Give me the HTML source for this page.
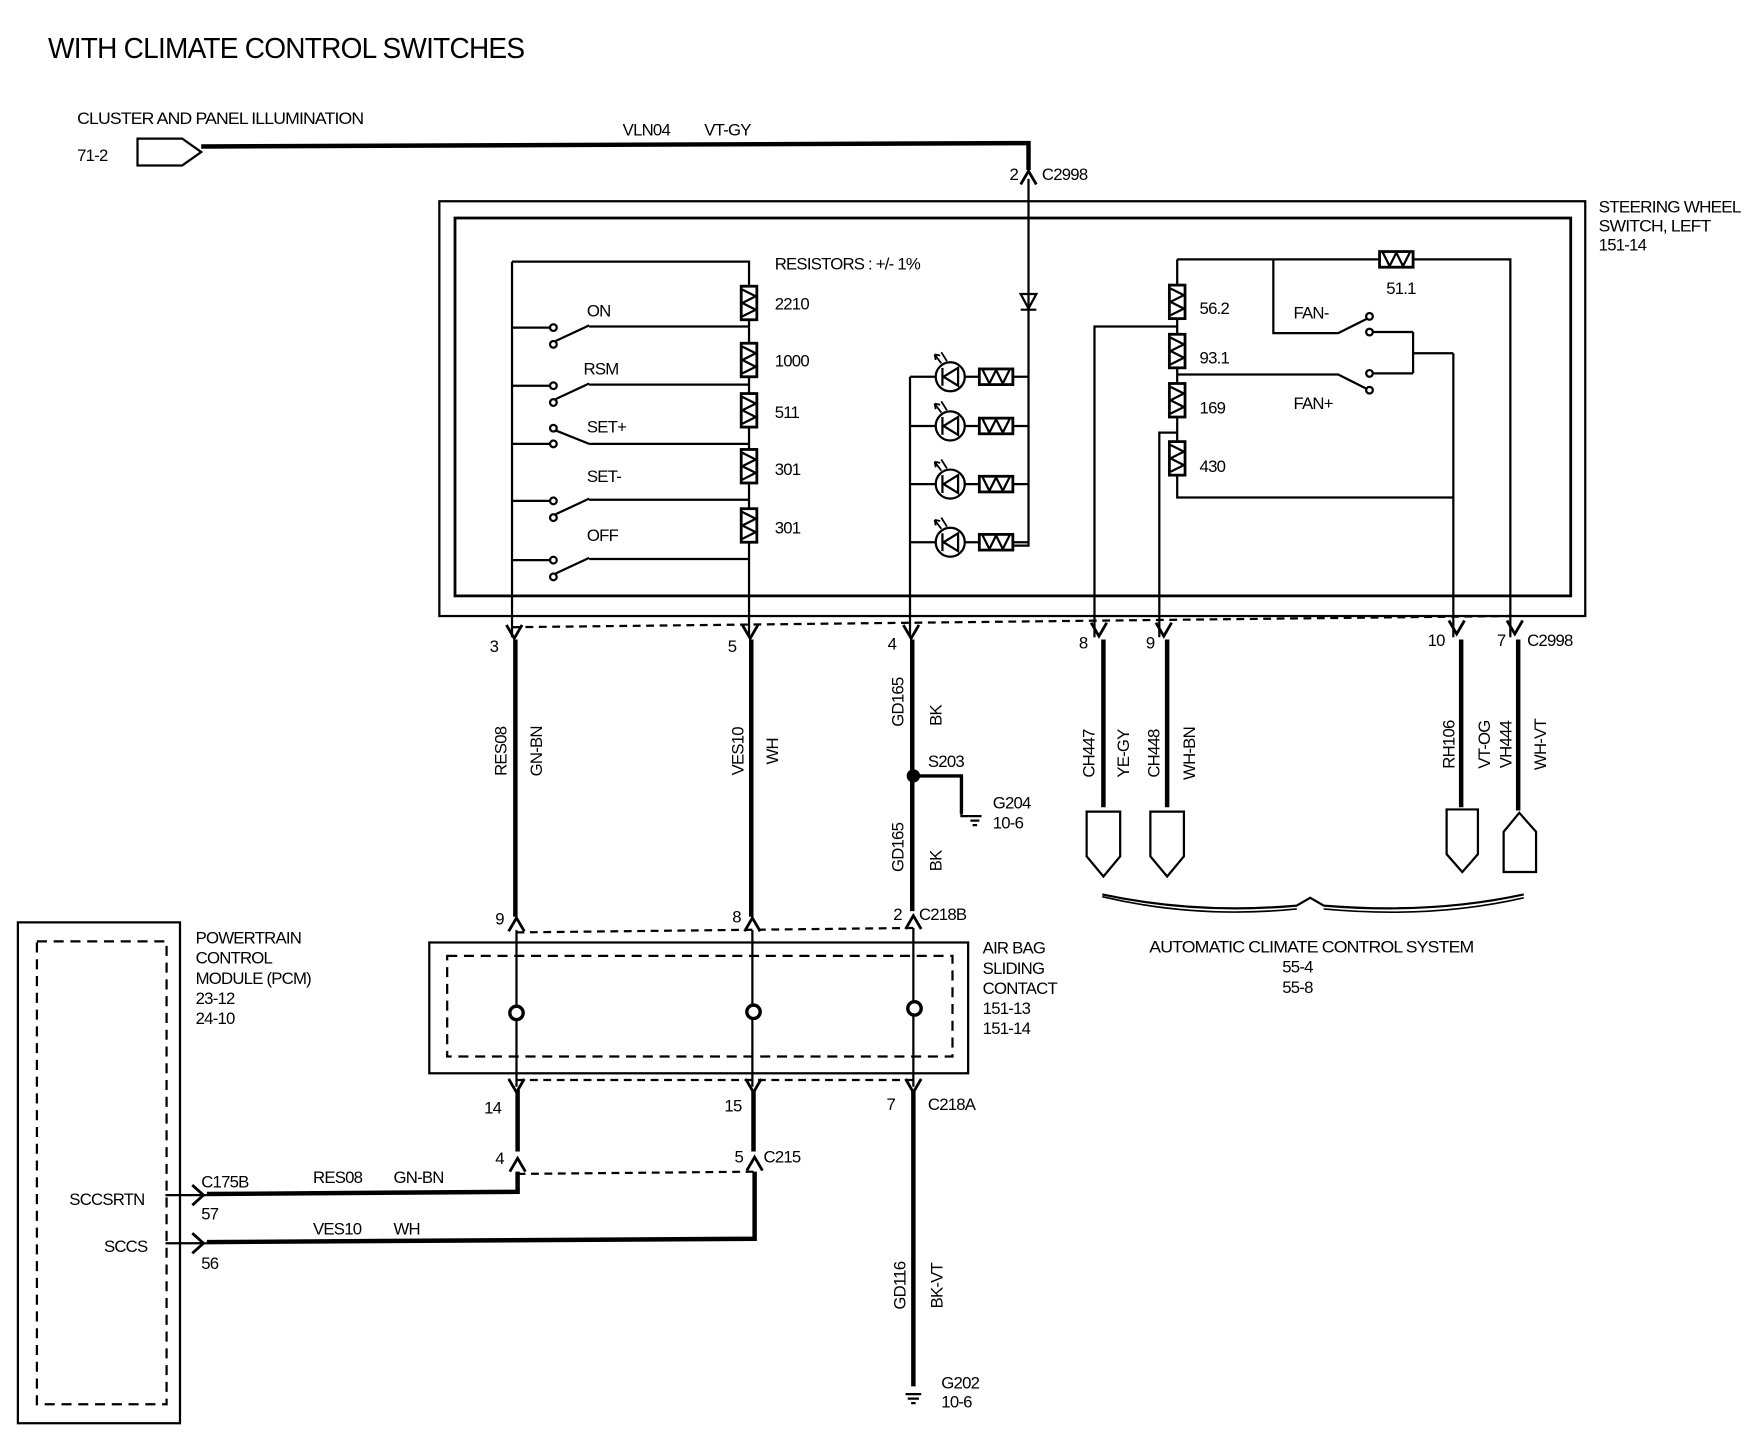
<!DOCTYPE html>
<html><head><meta charset="utf-8"><style>
html,body{margin:0;padding:0;background:#fff}
svg{display:block}
text{font-family:"Liberation Sans Narrow","Liberation Sans",sans-serif;font-size:15px;fill:#000;letter-spacing:-0.7px}
</style></head><body>
<svg width="1744" height="1440" viewBox="0 0 1560 1288" preserveAspectRatio="none" xmlns="http://www.w3.org/2000/svg">
<defs>
<g id="rv"><rect x="-7" y="0" width="14" height="30" fill="#fff" stroke="#000" stroke-width="2.5"/><path d="M-6 3 L6 9 L-6 15 L6 21 L-6 27" fill="none" stroke="#000" stroke-width="2"/></g>
<g id="rh"><rect x="0" y="-7" width="30" height="14" fill="#fff" stroke="#000" stroke-width="2.5"/><path d="M3 -6 L9 6 L15 -6 L21 6 L27 -6" fill="none" stroke="#000" stroke-width="2"/></g>
<g id="led"><circle cx="0" cy="0" r="13" fill="#fff" stroke="#000" stroke-width="2"/><path d="M7 -8 L7 8 L-6 0 Z M-7 -8 L-7 8" fill="none" stroke="#000" stroke-width="2"/><path d="M-8 -12 L-14 -20 M-14 -20 l1 5 M-14 -20 l5 1 M-3 -14 L-8 -22" stroke="#000" stroke-width="1.6" fill="none"/></g>
<path id="dn" d="M-7 -7 L0 5 L7 -7" fill="none" stroke="#000" stroke-width="2.5"/>
<path id="up" d="M-7 7 L0 -5 L7 7" fill="none" stroke="#000" stroke-width="2.5"/>
</defs>
<text x="43" y="52" style="font-size:26px" textLength="426" lengthAdjust="spacingAndGlyphs">WITH CLIMATE CONTROL SWITCHES</text>
<text x="69" y="111" textLength="256" lengthAdjust="spacingAndGlyphs">CLUSTER AND PANEL ILLUMINATION</text>
<text x="69" y="144">71-2</text>
<path d="M123 124 L163 124 L180 136 L163 148 L123 148 Z" fill="none" stroke="#000" stroke-width="2"/>
<path d="M180 131 L920 128 L920 152" fill="none" stroke="#000" stroke-width="4"/>
<text x="557" y="121">VLN04</text><text x="630" y="121">VT-GY</text>
<use href="#up" x="920" y="158"/>
<text x="903" y="161">2</text><text x="932" y="161">C2998</text>
<g fill="none" stroke="#000" stroke-width="2">
<rect x="393" y="180" width="1025" height="371"/>
<rect x="407" y="195" width="998" height="338" stroke-width="2.5"/>
<path d="M920 160 L920 488 L906 488"/>
<path d="M913 263 L927 263 L920 276 Z M913 277 L927 277"/>
<path d="M458 234 L670 234 L670 570"/>
<path d="M458 234 L458 570"/>
<path d="M458 293 L492 293 M527 292 L670 292 M497 305 L527 291"/>
<path d="M458 345 L492 345 M527 344 L670 344 M497 357 L527 343"/>
<path d="M458 397 L492 397 M527 397 L670 397 M497 385 L527 397"/>
<path d="M458 448 L492 448 M527 447 L670 447 M497 460 L527 446"/>
<path d="M458 501 L492 501 M527 500 L670 500 M497 513 L527 499"/>
<circle cx="495" cy="293" r="3"/><circle cx="495" cy="308" r="3"/>
<circle cx="495" cy="345" r="3"/><circle cx="495" cy="360" r="3"/>
<circle cx="495" cy="383" r="3"/><circle cx="495" cy="397" r="3"/>
<circle cx="495" cy="448" r="3"/><circle cx="495" cy="463" r="3"/>
<circle cx="495" cy="501" r="3"/><circle cx="495" cy="516" r="3"/>
<path d="M814 337 L814 570"/>
<path d="M814 337 L920 337 M814 381 L920 381 M814 433 L920 433 M814 485 L920 485"/>
<path d="M1053 232 L1351 232 L1351 570"/>
<path d="M1053 232 L1053 445 L1300 445"/>
<path d="M1053 292 L979 292 L979 570"/>
<path d="M1053 387 L1037 387 L1037 570"/>
<path d="M1300 316 L1300 570"/>
<path d="M1264 316 L1300 316 M1264 297 L1264 334"/>
<path d="M1139 232 L1139 298 L1197 298 L1223 285"/>
<path d="M1228 297 L1264 297"/>
<path d="M1053 335 L1197 335 L1223 348"/>
<path d="M1228 334 L1264 334"/>
<circle cx="1225" cy="283" r="3"/><circle cx="1225" cy="297" r="3"/>
<circle cx="1225" cy="334" r="3"/><circle cx="1225" cy="349" r="3"/>
</g>
<use href="#rv" x="670" y="256"/><use href="#rv" x="670" y="307"/><use href="#rv" x="670" y="352"/><use href="#rv" x="670" y="402"/><use href="#rv" x="670" y="455"/>
<use href="#rv" x="1053" y="255"/><use href="#rv" x="1053" y="299"/><use href="#rv" x="1053" y="343"/><use href="#rv" x="1053" y="395"/>
<use href="#rh" x="1234" y="232"/>
<use href="#led" x="850" y="337"/><use href="#led" x="850" y="381"/><use href="#led" x="850" y="433"/><use href="#led" x="850" y="485"/>
<use href="#rh" x="876" y="337"/><use href="#rh" x="876" y="381"/><use href="#rh" x="876" y="433"/><use href="#rh" x="876" y="485"/>
<text x="693" y="241">RESISTORS : +/- 1%</text>
<text x="693" y="277">2210</text><text x="693" y="328">1000</text><text x="693" y="374">511</text><text x="693" y="425">301</text><text x="693" y="477">301</text>
<text x="525" y="283">ON</text><text x="522" y="335">RSM</text><text x="525" y="387">SET+</text><text x="525" y="431">SET-</text><text x="525" y="484">OFF</text>
<text x="1073" y="281">56.2</text><text x="1073" y="325">93.1</text><text x="1073" y="370">169</text><text x="1073" y="422">430</text>
<text x="1240" y="263">51.1</text><text x="1157" y="285">FAN-</text><text x="1157" y="366">FAN+</text>
<text x="1430" y="190" textLength="127" lengthAdjust="spacingAndGlyphs">STEERING WHEEL</text><text x="1430" y="207" textLength="100" lengthAdjust="spacingAndGlyphs">SWITCH, LEFT</text><text x="1430" y="224">151-14</text>
<path d="M458 561 L1351 551" stroke="#000" stroke-width="2" stroke-dasharray="7,5" fill="none"/>
<use href="#dn" x="460" y="566"/><use href="#dn" x="671" y="566"/><use href="#dn" x="815" y="566"/><use href="#dn" x="983" y="564"/><use href="#dn" x="1041" y="564"/><use href="#dn" x="1303" y="562"/><use href="#dn" x="1355" y="562"/>
<text x="438" y="583">3</text><text x="651" y="583">5</text><text x="794" y="581">4</text><text x="965" y="580">8</text><text x="1025" y="580">9</text><text x="1277" y="578">10</text><text x="1339" y="578">7</text><text x="1366" y="578">C2998</text>
<g stroke="#000" stroke-width="4" fill="none">
<path d="M461 572 L461 820"/><path d="M672 572 L672 820"/><path d="M816 572 L816 815"/>
<path d="M987 572 L987 722"/><path d="M1044 572 L1044 722"/><path d="M1307 572 L1307 722"/><path d="M1358 572 L1358 725"/>
<path d="M817 975 L817 1240"/>
<path d="M463 975 L463 1030"/><path d="M674 975 L674 1030"/>
<path d="M463 1048 L463 1066 L185 1068"/><path d="M675 1048 L675 1108 L185 1111"/>
<path d="M817 694 L860 694 L860 728" stroke-width="3"/>
</g>
<circle cx="817" cy="694" r="6"/>
<path d="M866 730 L878 730 M868 734 L876 734 M870 738 L874 738" stroke="#000" stroke-width="2"/>
<path d="M860 728 L860 730 L866 730" stroke="#000" stroke-width="2" fill="none"/>
<text x="888" y="723">G204</text><text x="888" y="741">10-6</text>
<text x="830" y="686">S203</text>
<g font-size="15">
<text transform="translate(453,672) rotate(-90)" text-anchor="middle">RES08</text>
<text transform="translate(485,672) rotate(-90)" text-anchor="middle">GN-BN</text>
<text transform="translate(665,672) rotate(-90)" text-anchor="middle">VES10</text>
<text transform="translate(696,672) rotate(-90)" text-anchor="middle">WH</text>
<text transform="translate(808,628) rotate(-90)" text-anchor="middle">GD165</text>
<text transform="translate(842,640) rotate(-90)" text-anchor="middle">BK</text>
<text transform="translate(808,758) rotate(-90)" text-anchor="middle">GD165</text>
<text transform="translate(842,770) rotate(-90)" text-anchor="middle">BK</text>
<text transform="translate(979,674) rotate(-90)" text-anchor="middle">CH447</text>
<text transform="translate(1010,674) rotate(-90)" text-anchor="middle">YE-GY</text>
<text transform="translate(1037,674) rotate(-90)" text-anchor="middle">CH448</text>
<text transform="translate(1069,674) rotate(-90)" text-anchor="middle">WH-BN</text>
<text transform="translate(1301,666) rotate(-90)" text-anchor="middle">RH106</text>
<text transform="translate(1333,666) rotate(-90)" text-anchor="middle">VT-OG</text>
<text transform="translate(1352,666) rotate(-90)" text-anchor="middle">VH444</text>
<text transform="translate(1383,666) rotate(-90)" text-anchor="middle">WH-VT</text>
<text transform="translate(810,1150) rotate(-90)" text-anchor="middle">GD116</text>
<text transform="translate(843,1150) rotate(-90)" text-anchor="middle">BK-VT</text>
</g>
<g fill="#fff" stroke="#000" stroke-width="2">
<path d="M972 726 L1002 726 L1002 766 L987 784 L972 766 Z"/>
<path d="M1029 726 L1059 726 L1059 766 L1044 784 L1029 766 Z"/>
<path d="M1294 724 L1322 724 L1322 764 L1308 780 L1294 764 Z"/>
<path d="M1345 780 L1374 780 L1374 744 L1359 727 L1345 744 Z"/>
</g>
<path d="M986 800 Q1070 818 1160 810 L1172 803 L1184 810 Q1280 818 1363 800" fill="none" stroke="#000" stroke-width="2"/>
<path d="M986 802 Q1070 822 1160 813 M1184 813 Q1280 822 1363 803" fill="none" stroke="#000" stroke-width="1.5"/>
<text x="1028" y="852" textLength="290" lengthAdjust="spacingAndGlyphs">AUTOMATIC CLIMATE CONTROL SYSTEM</text>
<text x="1147" y="870">55-4</text><text x="1147" y="888">55-8</text>
<use href="#up" x="462" y="826"/><use href="#up" x="673" y="826"/><use href="#up" x="817" y="824"/>
<path d="M462 834 L817 830" stroke="#000" stroke-width="2" stroke-dasharray="7,5"/>
<text x="443" y="827">9</text><text x="655" y="825">8</text><text x="799" y="823">2</text><text x="822" y="823">C218B</text>
<rect x="384" y="843" width="482" height="117" fill="none" stroke="#000" stroke-width="2"/>
<rect x="400" y="855" width="452" height="90" fill="none" stroke="#000" stroke-width="2" stroke-dasharray="9,6"/>
<path d="M462 832 L462 972 M673 832 L673 972 M817 830 L817 972" stroke="#000" stroke-width="2"/>
<circle cx="462" cy="906" r="6" fill="#fff" stroke="#000" stroke-width="3"/>
<circle cx="674" cy="905" r="6" fill="#fff" stroke="#000" stroke-width="3"/>
<circle cx="818" cy="902" r="6" fill="#fff" stroke="#000" stroke-width="3"/>
<text x="879" y="853">AIR BAG</text><text x="879" y="871">SLIDING</text><text x="879" y="889">CONTACT</text><text x="879" y="907">151-13</text><text x="879" y="925">151-14</text>
<path d="M462 966 L817 966" stroke="#000" stroke-width="2" stroke-dasharray="7,5"/>
<use href="#dn" x="462" y="972"/><use href="#dn" x="674" y="972"/><use href="#dn" x="817" y="972"/>
<text x="433" y="996">14</text><text x="648" y="994">15</text><text x="793" y="993">7</text><text x="830" y="993">C218A</text>
<use href="#up" x="463" y="1041"/><use href="#up" x="675" y="1040"/>
<path d="M463 1050 L675 1048" stroke="#000" stroke-width="2" stroke-dasharray="7,5"/>
<text x="443" y="1041">4</text><text x="657" y="1040">5</text><text x="683" y="1040">C215</text>
<rect x="16" y="825" width="145" height="448" fill="none" stroke="#000" stroke-width="2"/>
<rect x="33" y="842" width="116" height="414" fill="none" stroke="#000" stroke-width="2" stroke-dasharray="9,6"/>
<text x="175" y="844">POWERTRAIN</text><text x="175" y="862">CONTROL</text><text x="175" y="880">MODULE (PCM)</text><text x="175" y="898">23-12</text><text x="175" y="916">24-10</text>
<text x="62" y="1078">SCCSRTN</text><text x="93" y="1120">SCCS</text>
<path d="M148 1069 L185 1069 M148 1112 L185 1112" stroke="#000" stroke-width="2"/>
<path d="M172 1060 L182 1069 L172 1078 M172 1103 L182 1112 L172 1121" fill="none" stroke="#000" stroke-width="2.5"/>
<text x="180" y="1062">C175B</text><text x="280" y="1058">RES08</text><text x="352" y="1058">GN-BN</text>
<text x="180" y="1091">57</text><text x="280" y="1104">VES10</text><text x="352" y="1104">WH</text><text x="180" y="1135">56</text>
<path d="M810 1247 L824 1247 M812 1251 L822 1251 M815 1255 L819 1255" stroke="#000" stroke-width="2"/>
<text x="842" y="1242">G202</text><text x="842" y="1259">10-6</text>
</svg>
</body></html>
